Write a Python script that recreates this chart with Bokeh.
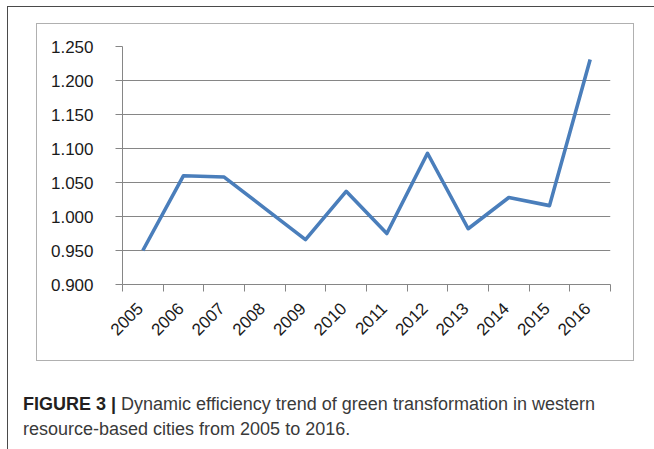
from bokeh.plotting import figure
from bokeh.models import (Range1d, FixedTicker, NumeralTickFormatter, CustomJSTickFormatter, Div)
from bokeh.layouts import column
from bokeh.embed import file_html
from bokeh.resources import INLINE

years = ["2005", "2006", "2007", "2008", "2009", "2010", "2011", "2012", "2013", "2014", "2015", "2016"]
efficiency = [0.950, 1.060, 1.058, 1.012, 0.966, 1.037, 0.975, 1.093, 0.982, 1.028, 1.016, 1.231]
y_ticks = [0.900, 0.950, 1.000, 1.050, 1.100, 1.150, 1.200, 1.250]
caption_bold = "FIGURE 3 |"
caption_text = ["Dynamic efficiency trend of green transformation in western",
                "resource-based cities from 2005 to 2016."]

# chart box outline: page (36,23)-(633,360); plot frame: page (122,46)-(610,284)
PW, PH = 596, 336
p = figure(width=PW, height=PH, output_backend="svg", toolbar_location=None,
           x_range=Range1d(0, len(years)), y_range=Range1d(0.9, 1.25),
           min_border_left=85, min_border_right=23, min_border_top=22, min_border_bottom=76,
           margin=(17, 0, 0, 29),
           styles={"outline": "1px solid #b0b0b0"})
p.outline_line_color = None
p.background_fill_color = "white"
p.border_fill_color = "white"

xs = [i + 0.5 for i in range(len(years))]
p.line(xs, efficiency, line_color="#4a7ebb", line_width=3.6, line_join="round")

grey = "#868686"
tick_font = "Liberation Sans"
xa = p.xaxis[0]
xa.ticker = FixedTicker(ticks=[x - 0.07 for x in xs], minor_ticks=list(range(len(years) + 1)))
xa.formatter = CustomJSTickFormatter(args=dict(labels=years), code="return labels[Math.round(tick - 0.43)];")
xa.major_tick_line_color = None
xa.minor_tick_line_color = grey
xa.minor_tick_out = 7
xa.minor_tick_in = 0
xa.axis_line_color = grey
xa.major_label_orientation = 0.785398
xa.major_label_standoff = 14
xa.major_label_text_font = tick_font
xa.major_label_text_font_size = "17px"
xa.major_label_text_color = "#1a1a1a"

ya = p.yaxis[0]
ya.ticker = FixedTicker(ticks=y_ticks)
ya.formatter = NumeralTickFormatter(format="0.000")
ya.major_tick_line_color = grey
ya.major_tick_out = 7
ya.major_tick_in = 0
ya.minor_tick_line_color = None
ya.axis_line_color = grey
ya.major_label_standoff = 22
ya.major_label_text_font = tick_font
ya.major_label_text_font_size = "17px"
ya.major_label_text_color = "#1a1a1a"

p.xgrid.grid_line_color = None
p.ygrid.grid_line_color = grey
p.ygrid.grid_line_width = 1

cap_html = (
    '<span style="font-weight:bold;color:#231f20;">' + caption_bold + '</span> '
    + '<span style="color:#3a3a3a;">' + caption_text[0] + '<br>' + caption_text[1] + '</span>'
)
cap = Div(text=cap_html, width=620, height=55, margin=(32, 0, 0, 15),
          styles={"font-family": "'Liberation Sans'", "font-size": "18px",
                  "line-height": "25px", "white-space": "nowrap"})

root = column(p, cap, width=647, height=443, margin=(6, 0, 0, 7),
              styles={"border-top": "1px solid #4a4a4a", "border-left": "1px solid #4a4a4a"})

open("out.html", "w").write(file_html(root, INLINE))
